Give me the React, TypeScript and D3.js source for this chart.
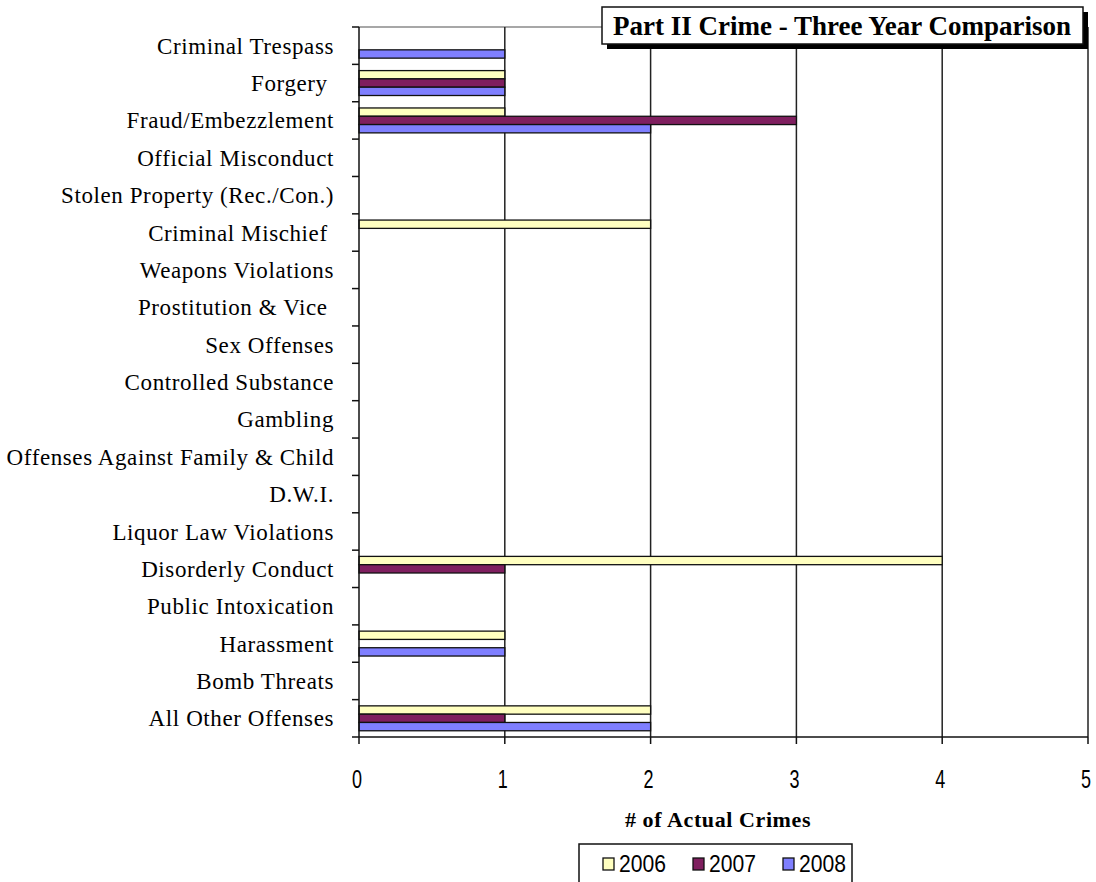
import React from "react";
import * as d3 from "d3";

const categories = [
  "Criminal Trespass",
  "Forgery ",
  "Fraud/Embezzlement",
  "Official Misconduct",
  "Stolen Property (Rec./Con.)",
  "Criminal Mischief ",
  "Weapons Violations",
  "Prostitution & Vice ",
  "Sex Offenses",
  "Controlled Substance",
  "Gambling",
  "Offenses Against Family & Child",
  "D.W.I.",
  "Liquor Law Violations",
  "Disorderly Conduct",
  "Public Intoxication",
  "Harassment",
  "Bomb Threats",
  "All Other Offenses",
];

const years = ["2006", "2007", "2008"];
const values2006 = [0, 1, 1, 0, 0, 2, 0, 0, 0, 0, 0, 0, 0, 0, 4, 0, 1, 0, 2];
const values2007 = [0, 1, 3, 0, 0, 0, 0, 0, 0, 0, 0, 0, 0, 0, 1, 0, 0, 0, 1];
const values2008 = [1, 1, 2, 0, 0, 0, 0, 0, 0, 0, 0, 0, 0, 0, 0, 0, 1, 0, 2];
const xTicks = [0, 1, 2, 3, 4, 5];

const colors: Record<string, string> = {
  "2006": "#FFFFC0",
  "2007": "#7F1F5F",
  "2008": "#7F7FFF",
};

const seriesValues: Record<string, number[]> = {
  "2006": values2006,
  "2007": values2007,
  "2008": values2008,
};

const serif = "'Liberation Serif', 'Times New Roman', serif";
const sans = "'Liberation Sans', Arial, sans-serif";

export default function App() {
  const W = 1096;
  const H = 882;
  const left = 359;
  const right = 1088;
  const top = 27;
  const bottom = 737;

  const x = d3.scaleLinear().domain([0, 5]).range([left, right]);
  const y0 = d3.scaleBand<string>().domain(categories).range([top, bottom]).padding(0);
  const y1 = d3
    .scaleBand<string>()
    .domain(years)
    .range([0, y0.bandwidth()])
    .paddingInner(0)
    .paddingOuter(0.75);

  const catTicks = d3.range(categories.length + 1).map((i) => top + i * y0.step());

  return (
    <svg
      width={W}
      height={H}
      style={{ position: "absolute", left: 0, top: 0, background: "#fff" }}
    >
      <rect x={0} y={0} width={W} height={H} fill="#fff" />
      {/* top border */}
      <line x1={left} x2={right} y1={top} y2={top} stroke="#8a8a8a" strokeWidth={1.3} />
      {/* gridlines */}
      {xTicks.slice(1).map((t) => (
        <line
          key={"g" + t}
          x1={x(t)}
          x2={x(t)}
          y1={top}
          y2={bottom}
          stroke="#222"
          strokeWidth={1.5}
        />
      ))}
      {/* bars */}
      {categories.map((c, i) => (
        <g key={c} transform={`translate(0,${y0(c)})`}>
          {years.map((yr) => {
            const v = seriesValues[yr][i];
            if (v <= 0) return null;
            return (
              <rect
                key={yr}
                x={x(0)}
                y={y1(yr)}
                width={x(v) - x(0)}
                height={y1.bandwidth()}
                fill={colors[yr]}
                stroke="#111"
                strokeWidth={1.3}
              />
            );
          })}
        </g>
      ))}
      {/* y axis */}
      <line x1={left} x2={left} y1={top} y2={bottom} stroke="#111" strokeWidth={1.5} />
      {catTicks.map((t, i) => (
        <line key={"yt" + i} x1={left - 7} x2={left} y1={t} y2={t} stroke="#111" strokeWidth={1.5} />
      ))}
      {categories.map((c) => (
        <text
          key={"l" + c}
          x={334}
          y={(y0(c) as number) + y0.bandwidth() / 2}
          dy="0.35em"
          textAnchor="end"
          fontFamily={serif}
          fontSize={23}
          letterSpacing={0.6}
          fill="#000"
          style={{ whiteSpace: "pre" }}
        >
          {c}
        </text>
      ))}
      {/* x axis */}
      <line x1={left} x2={right} y1={bottom} y2={bottom} stroke="#111" strokeWidth={1.5} />
      {xTicks.map((t) => (
        <g key={"xt" + t}>
          <line x1={x(t)} x2={x(t)} y1={bottom} y2={bottom + 7} stroke="#111" strokeWidth={1.5} />
          <text
            transform={`translate(${x(t) - 2},${779}) scale(0.72,1)`}
            dy="0.35em"
            textAnchor="middle"
            fontFamily={sans}
            fontSize={25}
            fill="#000"
          >
            {t}
          </text>
        </g>
      ))}
      <text
        x={718}
        y={819}
        dy="0.35em"
        textAnchor="middle"
        fontFamily={serif}
        fontWeight="bold"
        fontSize={22}
        letterSpacing={0.6}
        fill="#000"
      >
        # of Actual Crimes
      </text>
      {/* legend */}
      <rect x={579} y={844} width={273} height={50} fill="#fff" stroke="#111" strokeWidth={1.5} />
      {years.map((yr, i) => (
        <g key={"lg" + yr} transform={`translate(${603 + i * 90},0)`}>
          <rect x={0} y={858} width={11} height={12} fill={colors[yr]} stroke="#111" strokeWidth={1.3} />
          <text
            transform={`translate(16,${864}) scale(0.88,1)`}
            dy="0.35em"
            fontFamily={sans}
            fontSize={24}
            fill="#000"
          >
            {yr}
          </text>
        </g>
      ))}
      {/* title */}
      <rect x={607} y={12} width={481} height={37} fill="#000" />
      <rect x={602} y={7} width={481} height={37} fill="#fff" stroke="#111" strokeWidth={1.5} />
      <text
        x={842}
        y={26}
        dy="0.35em"
        textAnchor="middle"
        fontFamily={serif}
        fontWeight="bold"
        fontSize={27}
        fill="#000"
      >
        Part II Crime - Three Year Comparison
      </text>
    </svg>
  );
}
